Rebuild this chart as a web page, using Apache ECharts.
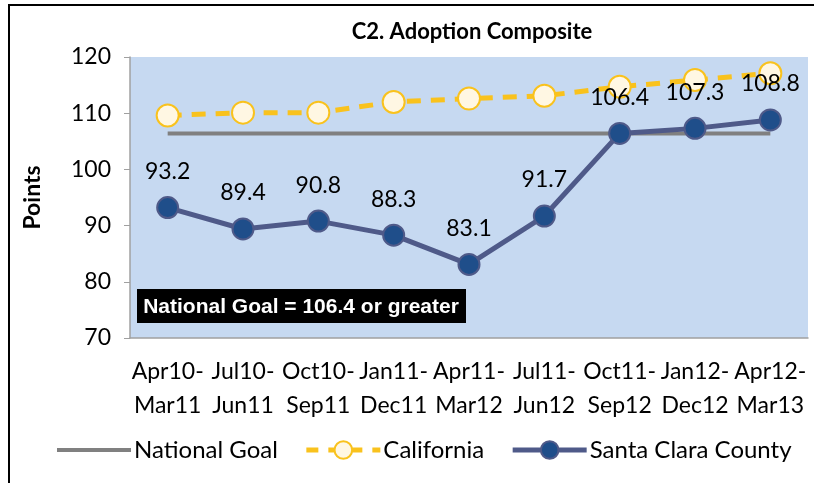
<!DOCTYPE html>
<html>
<head>
<meta charset="utf-8">
<script src="https://cdn.jsdelivr.net/npm/echarts@6/dist/echarts.min.js"></script>
<style>html,body{margin:0;padding:0;background:#fff;}#c{width:814px;height:483px;}</style>
</head>
<body>
<div id="c"></div>
<script>
const categories = ['Apr10-\nMar11','Jul10-\nJun11','Oct10-\nSep11','Jan11-\nDec11','Apr11-\nMar12','Jul11-\nJun12','Oct11-\nSep12','Jan12-\nDec12','Apr12-\nMar13'];
const nationalGoal = [106.4,106.4,106.4,106.4,106.4,106.4,106.4,106.4,106.4];
const california = [109.6,110.1,110.1,112.0,112.6,113.1,114.7,115.9,117.1];
const santaClara = [93.2,89.4,90.8,88.3,83.1,91.7,106.4,107.3,108.8];
const yTicks = {min:70, max:120, interval:10};

const FONT = 'Lato, "Open Sans", sans-serif';
const chart = echarts.init(document.getElementById('c'), null, {renderer:'canvas'});
chart.setOption({
  animation:false,
  backgroundColor:'#ffffff',
  textStyle:{fontFamily:FONT},
  title:{text:'C2. Adoption Composite', left:467, top:16, textAlign:'center',
    textStyle:{fontFamily:FONT, fontWeight:'bold', fontSize:22, color:'#000'}},
  grid:{left:130, right:6, top:57, bottom:145, show:true, backgroundColor:'#C6D9F1', borderWidth:0},
  legend:{
    bottom:16, left:50, itemWidth:74, itemHeight:22, itemGap:26,
    textStyle:{fontFamily:FONT, fontSize:24, color:'#000', padding:[0,0,0,-2]},
    data:[
      {name:'National Goal', itemStyle:{opacity:0}, lineStyle:{width:4, color:'#808080'}},
      {name:'California', lineStyle:{width:5, type:[12,10], color:'#F9C21D'}},
      {name:'Santa Clara County', lineStyle:{width:5, color:'#4F5A89'}}
    ]
  },
  xAxis:{
    type:'category', data:categories, boundaryGap:true,
    axisLine:{lineStyle:{color:'#A0A0A0', width:1.5}},
    axisTick:{inside:true, length:6, lineStyle:{color:'#A0A0A0'}},
    axisLabel:{fontFamily:FONT, fontSize:23, color:'#000', lineHeight:34, margin:17, interval:0}
  },
  yAxis:{
    type:'value', min:yTicks.min, max:yTicks.max, interval:yTicks.interval,
    name:'Points', nameLocation:'middle', nameGap:86, nameRotate:90,
    nameTextStyle:{fontFamily:FONT, fontWeight:'bold', fontSize:23, color:'#000'},
    splitLine:{show:false},
    axisLine:{show:true, lineStyle:{color:'#A0A0A0', width:1.5}},
    axisTick:{show:true, length:6, lineStyle:{color:'#A0A0A0'}},
    axisLabel:{fontFamily:FONT, fontSize:23, color:'#000', margin:19}
  },
  graphic:[
    {type:'rect', shape:{x:9, y:5, width:830, height:500}, style:{fill:'none', stroke:'#000', lineWidth:2}, z:100},
    {type:'rect', shape:{x:137, y:289, width:329, height:34}, style:{fill:'#000'}, z:100},
    {type:'text', x:301, y:307, style:{text:'National Goal = 106.4 or greater', fill:'#fff',
      font:'bold 21px "Liberation Sans Narrow", "Liberation Sans", Arial, sans-serif', align:'center', verticalAlign:'middle'}, z:101}
  ],
  series:[
    {name:'National Goal', type:'line', data:nationalGoal, symbol:'none', showSymbol:false,
      lineStyle:{color:'#808080', width:4}, itemStyle:{color:'#808080'}, z:2},
    {name:'California', type:'line', data:california, symbol:'circle', symbolSize:22,
      lineStyle:{color:'#F9C21D', width:5, type:[14,10]},
      itemStyle:{color:'#FFF7E3', borderColor:'#F9C21D', borderWidth:2}, z:3},
    {name:'Santa Clara County', type:'line', data:santaClara, symbol:'circle', symbolSize:21,
      lineStyle:{color:'#4F5A89', width:5},
      itemStyle:{color:'#1F4E8A', borderColor:'#4F5A89', borderWidth:2},
      label:{show:true, position:'top', distance:13, fontFamily:FONT, fontSize:23, color:'#000',
        formatter:(p)=>p.value.toFixed(1)}, z:4}
  ]
});
</script>
</body>
</html>
